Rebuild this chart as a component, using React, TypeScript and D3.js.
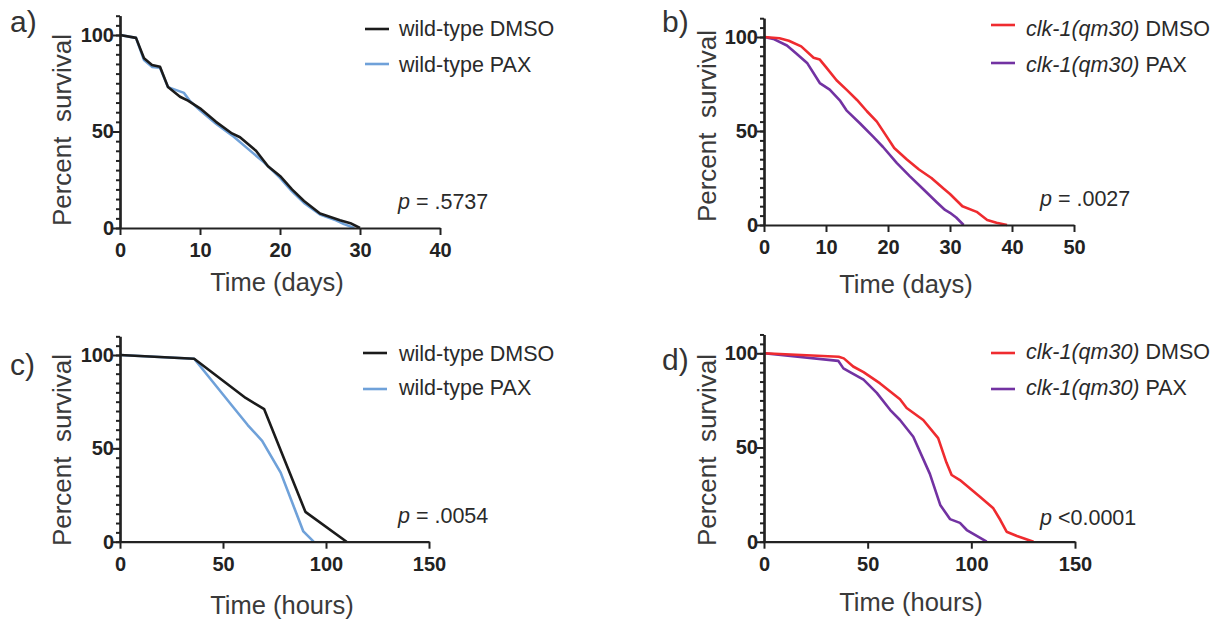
import React, { useEffect, useRef } from 'react';
import * as d3 from 'd3';

type Pt = [number, number];

// ---- Data ----
// Panel a: wild-type, lifespan (days)
const wtDmsoDays: Pt[] = [[0,100],[2,98.5],[3,88],[4,84.5],[5,83.5],[6,73],[7.5,68],[8.5,66],[10,62],[12,55],[14,49],[15,47],[17,40],[18.5,32],[20,27],[21.5,20],[23,14],[25,7.5],[27.5,4],[28.8,2.5],[30,0]];
const wtPaxDays: Pt[] = [[0,100],[2,98.5],[3,87],[4,83.5],[5,83],[6,73],[8,70],[8.7,66],[10,61],[12,54],[14,48],[16,41],[18,34],[20,26],[21.5,19],[23,13],[25,7],[27,4],[28,2],[29.3,0]];
// Panel b: clk-1(qm30), lifespan (days)
const clkDmsoDays: Pt[] = [[0,100],[2.5,99.3],[4,98],[6,95],[8,89],[9,88],[10,84],[11.7,77],[13.3,72],[15,66.5],[16.6,60.5],[18.2,55],[19.8,47],[21,41],[23,35],[25,29.5],[27,25],[28.9,19.5],[30,16.5],[32,10],[34.3,7],[36,2.7],[37.5,1.2],[39.2,0]];
const clkPaxDays: Pt[] = [[0,100],[1.5,99],[3.7,95.5],[5.3,91],[7,86],[9,75.5],[10.6,72],[12.3,66],[13.3,61],[15.5,54],[17.6,47],[19.2,41.5],[21.4,33],[23.5,26],[25.7,19],[27.9,12],[29.2,8],[30,6.5],[31,4],[32.2,0]];
// Panel c: wild-type, survival (hours)
const wtDmsoHours: Pt[] = [[0,100],[36,98],[61,77],[70,71],[90,16],[110,0]];
const wtPaxHours: Pt[] = [[0,100],[36,98],[55,72],[62,62.5],[69,54],[78,37],[89,5.5],[94,0]];
// Panel d: clk-1(qm30), survival (hours)
const clkDmsoHours: Pt[] = [[0,100],[36,98.2],[38.5,97.3],[43,93],[48,90],[56,84],[65.6,75.6],[68.8,71],[76.8,64.6],[84,55],[88,42],[90.5,35.4],[94.5,32.7],[104,24],[110.6,17.7],[114,11.5],[117,5.3],[122,3],[130,0]];
const clkPaxHours: Pt[] = [[0,100],[35.8,96],[38.3,92],[41.5,90],[48,86],[54.4,79],[60.8,70],[65.6,64.6],[72,55.7],[80,36],[85,19.5],[89.7,12],[94.5,10],[97.8,6.2],[107.4,0]];

const daysTicks = [0, 10, 20, 30, 40];
const daysTicksB = [0, 10, 20, 30, 40, 50];
const hoursTicks = [0, 50, 100, 150];
const yMajorTicks = [0, 50, 100];
const yMinorTicks = d3.range(0, 111, 5);

const pValues = ['.5737', '.0027', '.0054', '<0.0001'];
const panelLetters = ['a)', 'b)', 'c)', 'd)'];
const xTitles = ['Time (days)', 'Time (days)', 'Time (hours)', 'Time (hours)'];
const wtLabels = ['wild-type DMSO', 'wild-type PAX'];
const clkLabels = ['DMSO', 'PAX'];

const COL_BLACK = '#1b1b1b';
const COL_BLUE = '#6fa1d9';
const COL_RED = '#ef2b2f';
const COL_PURPLE = '#7232a2';

const FONT = "'Liberation Sans', Arial, Helvetica, sans-serif";

interface PanelCfg {
  x0: number; x1: number; xMax: number; xTicks: number[];
  y0: number; y100: number;
  series: { data: Pt[]; color: string }[];
  clk: boolean;
  legendLineX: number; legendTextX: number; legendLineY: number[]; legendTextY: number[];
  pX: number; pY: number; pLabelSep: string;
  letterX: number; letterY: number;
  yTitleX: number; yTitleCy: number;
  xTitleCx: number; xTitleY: number;
}

const panels: PanelCfg[] = [
  { x0: 120, x1: 440, xMax: 40, xTicks: daysTicks, y0: 228, y100: 35,
    series: [{ data: wtPaxDays, color: COL_BLUE }, { data: wtDmsoDays, color: COL_BLACK }], clk: false,
    legendLineX: 365, legendTextX: 399, legendLineY: [29, 64], legendTextY: [36, 72],
    pX: 398, pY: 209, pLabelSep: ' = ', letterX: 10, letterY: 32, yTitleX: 71, yTitleCy: 130, xTitleCx: 277, xTitleY: 291 },
  { x0: 764, x1: 1074, xMax: 50, xTicks: daysTicksB, y0: 225, y100: 37,
    series: [{ data: clkPaxDays, color: COL_PURPLE }, { data: clkDmsoDays, color: COL_RED }], clk: true,
    legendLineX: 991, legendTextX: 1026, legendLineY: [25, 63], legendTextY: [36, 72],
    pX: 1040, pY: 206, pLabelSep: ' = ', letterX: 662, letterY: 32, yTitleX: 716, yTitleCy: 126, xTitleCx: 906, xTitleY: 293 },
  { x0: 120, x1: 429, xMax: 150, xTicks: hoursTicks, y0: 541.7, y100: 355,
    series: [{ data: wtPaxHours, color: COL_BLUE }, { data: wtDmsoHours, color: COL_BLACK }], clk: false,
    legendLineX: 363, legendTextX: 399, legendLineY: [353, 389], legendTextY: [361, 395],
    pX: 398, pY: 523, pLabelSep: ' = ', letterX: 10, letterY: 375, yTitleX: 71, yTitleCy: 450, xTitleCx: 282, xTitleY: 614 },
  { x0: 764, x1: 1075, xMax: 150, xTicks: hoursTicks, y0: 541.7, y100: 353.3,
    series: [{ data: clkPaxHours, color: COL_PURPLE }, { data: clkDmsoHours, color: COL_RED }], clk: true,
    legendLineX: 991, legendTextX: 1026, legendLineY: [353, 389], legendTextY: [359, 395],
    pX: 1040, pY: 525, pLabelSep: ' ', letterX: 662, letterY: 370, yTitleX: 716, yTitleCy: 450, xTitleCx: 911, xTitleY: 611 },
];

export default function App() {
  const ref = useRef<SVGSVGElement | null>(null);

  useEffect(() => {
    const svg = d3.select(ref.current);
    svg.selectAll('*').remove();

    panels.forEach((p, i) => {
      const x = d3.scaleLinear().domain([0, p.xMax]).range([p.x0, p.x1]);
      const y = d3.scaleLinear().domain([0, 100]).range([p.y0, p.y100]);
      const g = svg.append('g');

      // curves
      const line = d3.line<Pt>().x(d => x(d[0])).y(d => y(d[1]));
      p.series.forEach(s => {
        g.append('path').attr('d', line(s.data) as string)
          .attr('fill', 'none').attr('stroke', s.color).attr('stroke-width', 2.6)
          .attr('stroke-linejoin', 'round');
      });

      // y axis minor ticks
      const yFull = d3.scaleLinear().domain([0, 110]).range([p.y0, y(110)]);
      const yMinor = g.append('g').attr('transform', `translate(${p.x0},0)`)
        .call(d3.axisLeft(yFull).tickValues(yMinorTicks).tickSize(4).tickSizeOuter(0).tickFormat(() => ''));
      // y axis major
      const yMajor = g.append('g').attr('transform', `translate(${p.x0},0)`)
        .call(d3.axisLeft(yFull).tickValues(yMajorTicks).tickSize(7).tickPadding(-1).tickSizeOuter(0).tickFormat(d3.format('d')));
      // x axis
      const xAx = g.append('g').attr('transform', `translate(0,${p.y0})`)
        .call(d3.axisBottom(x).tickValues(p.xTicks).tickSize(7).tickPadding(8).tickSizeOuter(0).tickFormat(d3.format('d')));

      [yMinor, yMajor, xAx].forEach(ax => {
        ax.selectAll('path').attr('stroke', '#222').attr('stroke-width', 2.2);
        ax.selectAll('line').attr('stroke', '#222').attr('stroke-width', 2);
        ax.selectAll('text').attr('fill', '#222').attr('font-family', FONT)
          .attr('font-size', 20).attr('font-weight', 'bold');
      });

      // panel letter
      g.append('text').attr('x', p.letterX).attr('y', p.letterY).text(panelLetters[i])
        .attr('font-family', FONT).attr('font-size', 30).attr('fill', '#333');

      // y title
      g.append('text').attr('transform', `translate(${p.yTitleX},${p.yTitleCy}) rotate(-90)`)
        .attr('text-anchor', 'middle').attr('font-family', FONT).attr('font-size', 26).attr('fill', '#3a3a3a')
        .attr('xml:space', 'preserve').style('white-space', 'pre')
        .text('Percent  survival');

      // x title
      g.append('text').attr('x', p.xTitleCx).attr('y', p.xTitleY).attr('text-anchor', 'middle')
        .attr('font-family', FONT).attr('font-size', 25.5).attr('fill', '#3a3a3a').text(xTitles[i]);

      // legend
      const legendColors = [p.series[1].color, p.series[0].color];
      [0, 1].forEach(k => {
        g.append('line').attr('x1', p.legendLineX).attr('x2', p.legendLineX + 24)
          .attr('y1', p.legendLineY[k]).attr('y2', p.legendLineY[k])
          .attr('stroke', legendColors[k]).attr('stroke-width', 2.6);
        const t = g.append('text').attr('x', p.legendTextX).attr('y', p.legendTextY[k])
          .attr('font-family', FONT).attr('font-size', 21.5).attr('fill', '#2a2a2a');
        if (p.clk) {
          t.append('tspan').attr('font-style', 'italic').text('clk-1(qm30)');
          t.append('tspan').text(' ' + clkLabels[k]);
        } else {
          t.text(wtLabels[k]);
        }
      });

      // p value
      const pt = g.append('text').attr('x', p.pX).attr('y', p.pY)
        .attr('font-family', FONT).attr('font-size', 21.5).attr('fill', '#2a2a2a');
      pt.append('tspan').attr('font-style', 'italic').text('p');
      pt.append('tspan').text(p.pLabelSep + pValues[i]);
    });
  }, []);

  return (
    <svg ref={ref} width={1228} height={624}
      style={{ position: 'absolute', left: 0, top: 0, background: '#fff' }} />
  );
}
